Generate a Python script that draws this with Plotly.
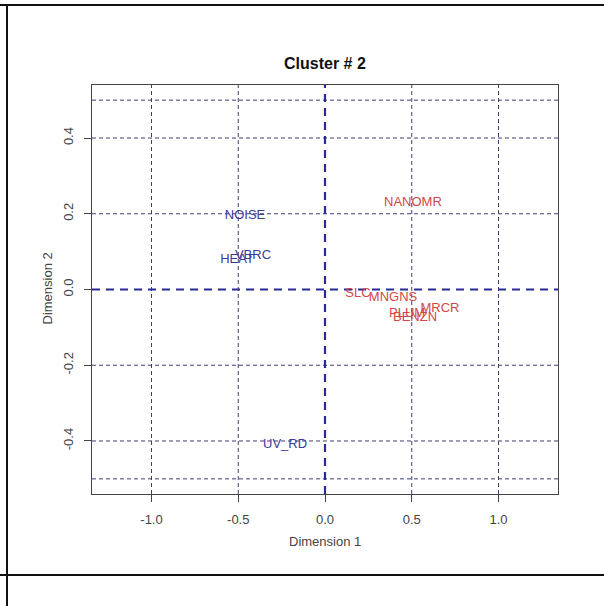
import plotly.graph_objects as go

# Variable coordinates on the first two dimensions
labels_blue = ["NOISE", "VBRC", "HEAT", "UV_RD"]
x_blue = [-0.461, -0.415, -0.507, -0.23]
y_blue = [0.195, 0.089, 0.079, -0.410]

labels_red = ["NANOMR", "SLC", "MNGNS", "MRCR", "PLUM", "BENZN"]
x_red = [0.507, 0.19, 0.392, 0.663, 0.473, 0.519]
y_red = [0.229, -0.011, -0.021, -0.050, -0.063, -0.074]

x_ticks = [-1.0, -0.5, 0.0, 0.5, 1.0]
y_ticks = [-0.4, -0.2, 0.0, 0.2, 0.4]
v_grid = [-1.0, -0.5, 0.5, 1.0]
h_grid = [-0.5, -0.4, -0.2, 0.2, 0.4, 0.5]

x_range = [-1.343, 1.343]
y_range = [-0.54, 0.54]

FONT = "Liberation Sans, Arial, sans-serif"
BLUE = "#3b3b9c"
RED = "#d44646"
GRID = "#3e3e74"
ZERO = "#2a2a96"
AXIS = "#444444"

fig = go.Figure()
fig.add_trace(go.Scatter(
    x=x_blue, y=y_blue, text=labels_blue, mode="text",
    textposition="middle center",
    textfont=dict(family=FONT, size=13, color=BLUE),
    hoverinfo="skip", showlegend=False, cliponaxis=False,
))
fig.add_trace(go.Scatter(
    x=x_red, y=y_red, text=labels_red, mode="text",
    textposition="middle center",
    textfont=dict(family=FONT, size=13, color=RED),
    hoverinfo="skip", showlegend=False, cliponaxis=False,
))

shapes = []
for v in v_grid:
    shapes.append(dict(type="line", xref="x", yref="paper", x0=v, x1=v, y0=0, y1=1,
                       line=dict(color=GRID, width=1, dash="4px,3px"), layer="below"))
for h in h_grid:
    shapes.append(dict(type="line", xref="paper", yref="y", x0=0, x1=1, y0=h, y1=h,
                       line=dict(color=GRID, width=1, dash="4px,3px"), layer="below"))
# reference lines through the origin
shapes.append(dict(type="line", xref="x", yref="paper", x0=0, x1=0, y0=0, y1=1,
                   line=dict(color=ZERO, width=2.2, dash="8px,6px"), layer="below"))
shapes.append(dict(type="line", xref="paper", yref="y", x0=0, x1=1, y0=0, y1=0,
                   line=dict(color=ZERO, width=2.2, dash="8px,6px"), layer="below"))

# page frame around the figure
W, H = 604, 606
L, R, T, B = 92, 46, 85, 112
pw, ph = W - L - R, H - T - B


def px(x):
    return (x - L) / pw


def py(y):
    return (H - B - y) / ph


frame = dict(color="#111111", width=2)
shapes.append(dict(type="line", xref="paper", yref="paper",
                   x0=px(0), x1=px(W), y0=py(5), y1=py(5), line=frame))
shapes.append(dict(type="line", xref="paper", yref="paper",
                   x0=px(7), x1=px(7), y0=py(5), y1=py(H), line=frame))
shapes.append(dict(type="line", xref="paper", yref="paper",
                   x0=px(0), x1=px(W), y0=py(575), y1=py(575), line=frame))

annotations = [
    dict(text="<b>Cluster # 2</b>", xref="paper", yref="paper",
         x=px(325), y=py(53), showarrow=False,
         font=dict(family=FONT, size=16, color="#111111")),
    dict(text="Dimension 1", xref="paper", yref="paper",
         x=px(325), y=py(551), showarrow=False,
         font=dict(family=FONT, size=13, color="#444444")),
    dict(text="Dimension 2", xref="paper", yref="paper",
         x=px(37), y=py(289), showarrow=False, textangle=-90,
         font=dict(family=FONT, size=13, color="#444444")),
]

axis_common = dict(
    showgrid=False, zeroline=False, showline=True, mirror=True,
    linecolor=AXIS, linewidth=1, ticks="outside", ticklen=7,
    tickcolor=AXIS, tickwidth=1,
    tickfont=dict(family=FONT, size=13, color="#444444"),
)

fig.update_layout(
    width=W, height=H,
    margin=dict(l=L, r=R, t=T, b=B),
    paper_bgcolor="white", plot_bgcolor="white",
    shapes=shapes, annotations=annotations,
    xaxis=dict(range=x_range, tickvals=x_ticks,
               ticktext=[f"{v:.1f}" for v in x_ticks],
               ticklabelstandoff=6, **axis_common),
    yaxis=dict(range=y_range, tickvals=y_ticks,
               ticktext=[f"{v:.1f}" for v in y_ticks],
               tickangle=-90, ticklabelstandoff=6, **axis_common),
)

fig.write_html("out.html")
